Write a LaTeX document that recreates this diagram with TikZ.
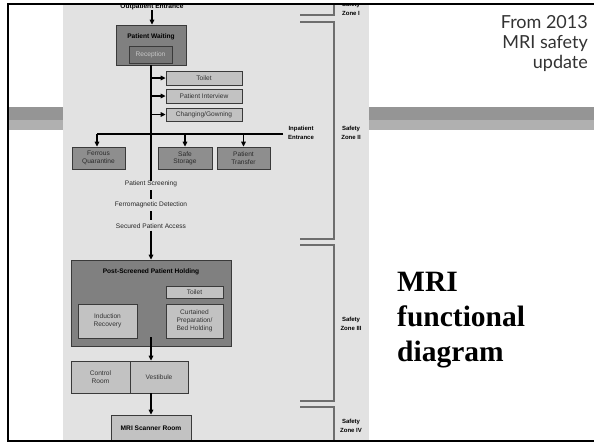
\documentclass[tikz,border=0pt]{standalone}
\usepackage{fontspec}
\setmainfont{Liberation Serif}
\newfontfamily\dgf{Liberation Sans}
\newfontfamily\hdf{Lato}
\usetikzlibrary{arrows.meta}
\definecolor{bgd}{HTML}{E2E2E2}
\definecolor{darkfill}{HTML}{808080}
\definecolor{recfill}{HTML}{767676}
\definecolor{midfill}{HTML}{8E8E8E}
\definecolor{lightfill}{HTML}{C2C2C2}
\definecolor{bord}{HTML}{3A3A3A}
\definecolor{zone}{HTML}{6E6E6E}
\definecolor{banddark}{HTML}{959595}
\definecolor{bandlight}{HTML}{B0B0B0}
\definecolor{lighttext}{HTML}{C8C8C8}
\definecolor{midtext}{HTML}{2A2A2A}
\tikzset{
  box/.style={draw=bord, line width=0.8pt, inner sep=0pt, align=center, font=\dgf\fontsize{6.6}{7.6}\selectfont},
  darkbox/.style={box, fill=darkfill},
  lightbox/.style={box, fill=lightfill, text=black!80},
  midbox/.style={box, fill=midfill, text=midtext},
  lbl/.style={inner sep=0pt, align=center, font=\dgf\fontsize{6.6}{7.6}\selectfont, text=black!85},
  blbl/.style={inner sep=0pt, align=center, font=\dgf\bfseries\fontsize{6}{9}\selectfont},
  conn/.style={line width=1.2pt, black},
  arr/.style={conn, -{Triangle[length=5pt,width=4.6pt]}},
  zoneline/.style={line width=1.3pt, zone}
}
\begin{document}
\begin{tikzpicture}[x=1pt,y=-1pt]
\useasboundingbox (0,0) rectangle (594,445);
\fill[white] (0,0) rectangle (594,445);
% band
\fill[banddark] (7,107) rectangle (594,120);
\fill[bandlight] (7,120) rectangle (594,130);
% diagram background
\fill[bgd] (63,5) rectangle (369,441);
\begin{scope}
\clip (63,5) rectangle (369,441);
% nodes
\node[blbl, font=\dgf\bfseries\fontsize{6.6}{7}\selectfont] (out) at (152,7) {Outpatient Entrance};
\node[darkbox, minimum width=70pt, minimum height=40pt] (pw) at (151,45) {};
\node[blbl, font=\dgf\bfseries\fontsize{6.6}{7}\selectfont] (pwt) at (151,37) {Patient Waiting};
\node[box, fill=recfill, text=lighttext, minimum width=43pt, minimum height=17pt] (rec) at (150.5,54.5) {Reception};
\node[lightbox, minimum width=76pt, minimum height=14pt] (t1) at (204,78) {Toilet};
\node[lightbox, minimum width=76pt, minimum height=14pt] (piv) at (204,96) {Patient Interview};
\node[lightbox, minimum width=76pt, minimum height=13pt] (chg) at (204,114.5) {Changing/Gowning};
\node[midbox, minimum width=53pt, minimum height=22pt, font=\dgf\fontsize{6.6}{7.4}\selectfont] (fq) at (98.5,158) {Ferrous\\Quarantine};
\node[midbox, minimum width=54pt, minimum height=22pt, font=\dgf\fontsize{6.6}{7.4}\selectfont] (ss) at (185,158) {Safe\\Storage};
\node[midbox, minimum width=53pt, minimum height=22pt, font=\dgf\fontsize{6.6}{7.4}\selectfont] (pt) at (243.5,158) {Patient\\Transfer};
\node[blbl] (inp) at (301,132.5) {Inpatient\\Entrance};
\node[lbl] (scr) at (151,184) {Patient Screening};
\node[lbl] (fer) at (151,205) {Ferromagnetic Detection};
\node[lbl] (sec) at (151,226) {Secured Patient Access};
\node[darkbox, minimum width=160pt, minimum height=86pt] (psh) at (151,303) {};
\node[blbl, font=\dgf\bfseries\fontsize{6.6}{7}\selectfont] (psht) at (151,272) {Post-Screened Patient Holding};
\node[lightbox, minimum width=57pt, minimum height=12pt] (t2) at (194.5,292) {Toilet};
\node[lightbox, minimum width=59pt, minimum height=34pt, font=\dgf\fontsize{6.6}{8}\selectfont] (ind) at (107.5,321) {Induction\\Recovery};
\node[lightbox, minimum width=57pt, minimum height=34pt, font=\dgf\fontsize{6.6}{8}\selectfont] (cur) at (194.5,321) {Curtained\\Preparation/\\Bed Holding};
\node[lightbox, minimum width=59pt, minimum height=32pt, font=\dgf\fontsize{6.6}{8}\selectfont] (ctl) at (100.5,377) {Control\\Room};
\node[lightbox, minimum width=58pt, minimum height=32pt] (vst) at (159,377) {Vestibule};
\node[lightbox, minimum width=80pt, minimum height=26pt, font=\dgf\bfseries\fontsize{6.6}{7}\selectfont, text=black] (mri) at (151,428) {MRI Scanner Room};
% zone labels
\node[blbl] (z1) at (351,8.5) {Safety\\Zone I};
\node[blbl] (z2) at (351,132.5) {Safety\\Zone II};
\node[blbl] (z3) at (351,324) {Safety\\Zone III};
\node[blbl] (z4) at (351,425.5) {Safety\\Zone IV};
% connectors
\draw[arr] (out.south) -- (out.south |- pw.north);
\draw[conn] (pw.south) -- (scr.north -| pw.south);
\draw[arr] (t1.west -| pw.south) -- (t1.west);
\draw[arr] (piv.west -| pw.south) -- (piv.west);
\draw[arr] (chg.west -| pw.south) -- (chg.west);
\coordinate (hl) at (97,134);
\coordinate (hr) at (283,134);
\draw[conn] (hr) -- (hl);
\draw[arr] (hl) -- (fq.north -| hl);
\draw[arr] (ss.north |- hl) -- (ss.north);
\draw[arr] (pt.north |- hl) -- (pt.north);
\draw[conn, shorten <=3pt, shorten >=3pt] (scr.south) -- (fer.north);
\draw[conn, shorten <=3pt, shorten >=3pt] (fer.south) -- (sec.north);
\draw[arr, shorten <=2pt] (sec.south) -- (psh.north);
\draw[arr] ([yshift=9pt]psh.south) -- (vst.north -| psh.south);
\draw[arr] (mri.north |- vst.south) -- (mri.north);
% zone brackets
\draw[zoneline] (300,15) -- (334,15) -- (334,0);
\draw[zoneline] (300,22) -- (334,22) -- (334,239) -- (300,239);
\draw[zoneline] (300,245) -- (334,245) -- (334,401) -- (300,401);
\draw[zoneline] (300,407) -- (334,407) -- (334,445);
\end{scope}
% slide frame
\draw[line width=2.5pt, black] (594,4) -- (8,4) -- (8,441) -- (594,441);
% slide texts
\node[anchor=north east, inner sep=0pt, align=right, font=\hdf\fontsize{18}{20}\selectfont, text=black!80] (src) at (588,15) {From 2013\\MRI safety\\update};
\node[anchor=north west, inner sep=0pt, align=left, font=\bfseries\fontsize{29.5}{35}\selectfont] (ttl) at (397,271.5) {MRI\\functional\\diagram};
\end{tikzpicture}
\end{document}
